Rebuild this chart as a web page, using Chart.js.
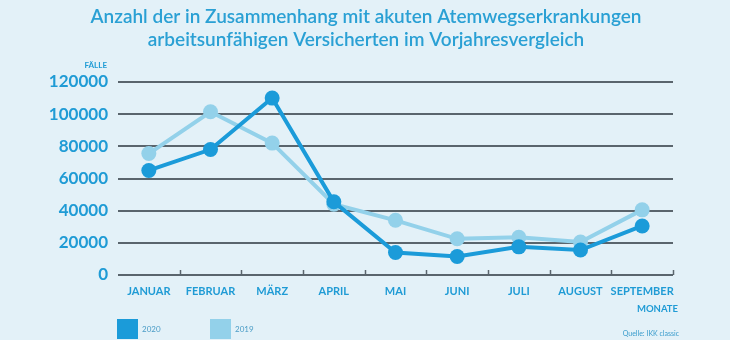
<!DOCTYPE html>
<html lang="de">
<head>
<meta charset="utf-8">
<title>Arbeitsunfähige Versicherte – Atemwegserkrankungen</title>
<script src="https://cdn.jsdelivr.net/npm/chart.js@4/dist/chart.umd.min.js"></script>
<style>
  html, body { margin: 0; padding: 0; background: #e3f1f8; }
  #wrap { width: 730px; height: 340px; position: relative; }
</style>
</head>
<body>
<div id="wrap"><canvas id="chart" width="730" height="340"></canvas></div>
<script>
// Monate (Kategorien)
const months = ['JANUAR', 'FEBRUAR', 'MÄRZ', 'APRIL', 'MAI', 'JUNI', 'JULI', 'AUGUST', 'SEPTEMBER'];
// Arbeitsunfähige Versicherte je Monat
const values2020 = [65000, 78000, 110000, 45500, 14000, 11500, 17500, 15500, 30500];
const values2019 = [75500, 101500, 82000, 44000, 34000, 22500, 23500, 20500, 40500];
// Beschriftung der Y-Achse
const yTicks = [0, 20000, 40000, 60000, 80000, 100000, 120000];
const titleLines = ['Anzahl der in Zusammenhang mit akuten Atemwegserkrankungen',
                    'arbeitsunfähigen Versicherten im Vorjahresvergleich'];

const BLUE = '#1b9bd9';
const LIGHT = '#93d1ea';
const TEXT = '#1f9bd5';
const GRID = '#5a656d';
const FONT = 'Lato, "Open Sans", sans-serif';

// Titel, Achsentitel, Quelle, Legende und kleine Teilstriche der X-Achse
const decorations = {
  id: 'decorations',
  afterDraw(chart) {
    const ctx = chart.ctx;
    const xs = chart.scales.x;
    const area = chart.chartArea;
    ctx.save();

    // Titel
    ctx.fillStyle = '#2aa0d4';
    ctx.font = '600 19px ' + FONT;
    ctx.textAlign = 'center';
    ctx.textBaseline = 'middle';
    ctx.fillText(titleLines[0], 366, 17);
    ctx.fillText(titleLines[1], 366, 40);

    // Teilstriche zwischen den Monaten
    ctx.strokeStyle = GRID;
    ctx.lineWidth = 1.5;
    const step = xs.getPixelForValue(1) - xs.getPixelForValue(0);
    for (let i = 1; i <= months.length; i++) {
      const x = Math.round(xs.getPixelForValue(i - 1) + step / 2) + 0.5;
      ctx.beginPath();
      ctx.moveTo(x, area.bottom - 5);
      ctx.lineTo(x, area.bottom);
      ctx.stroke();
    }

    // Achsentitel
    ctx.fillStyle = TEXT;
    ctx.textAlign = 'right';
    ctx.font = 'bold 8px ' + FONT;
    ctx.fillText('FÄLLE', 107, 65);
    ctx.font = 'bold 9.5px ' + FONT;
    ctx.fillText('MONATE', 678, 309);

    // Quelle
    ctx.font = '7px ' + FONT;
    ctx.fillStyle = '#3a9ccc';
    ctx.fillText('Quelle: IKK classic', 679, 334);

    // Legende
    const legendX = [117, 210];
    chart.data.datasets.forEach((ds, i) => {
      ctx.fillStyle = ds.borderColor;
      ctx.fillRect(legendX[i], 319, 21, 20);
      ctx.fillStyle = '#4a9cc6';
      ctx.textAlign = 'left';
      ctx.font = '8px ' + FONT;
      ctx.fillText(ds.label, legendX[i] + 25, 329);
    });
    ctx.restore();
  }
};

new Chart(document.getElementById('chart'), {
  type: 'line',
  data: {
    labels: months,
    datasets: [
      {
        label: '2020',
        data: values2020,
        borderColor: BLUE,
        backgroundColor: BLUE,
        borderWidth: 4,
        pointRadius: 7.5,
        pointHoverRadius: 7.5,
        pointBorderWidth: 0,
        tension: 0
      },
      {
        label: '2019',
        data: values2019,
        borderColor: LIGHT,
        backgroundColor: LIGHT,
        borderWidth: 4,
        pointRadius: 7.5,
        pointHoverRadius: 7.5,
        pointBorderWidth: 0,
        tension: 0
      }
    ]
  },
  options: {
    responsive: false,
    animation: false,
    layout: { padding: { top: 82, right: 57, bottom: 0, left: 0 } },
    plugins: {
      legend: { display: false },
      title: { display: false },
      tooltip: { enabled: false }
    },
    scales: {
      x: {
        offset: true,
        grid: { display: false, drawTicks: false },
        border: { display: false },
        ticks: {
          color: TEXT,
          font: { family: FONT, size: 11, weight: 'bold' },
          padding: 10,
          maxRotation: 0,
          autoSkip: false
        },
        afterFit(scale) { scale.height = 65; }
      },
      y: {
        min: 0,
        max: 120000,
        afterBuildTicks(scale) { scale.ticks = yTicks.map(v => ({ value: v })); },
        grid: { color: GRID, lineWidth: 2, drawTicks: false },
        border: { display: false },
        ticks: {
          color: TEXT,
          font: { family: FONT, size: 17, weight: 'bold' },
          padding: 10,
          callback: v => String(v)
        },
        afterFit(scale) { scale.width = 118; }
      }
    }
  },
  plugins: [decorations]
});
</script>
</body>
</html>
